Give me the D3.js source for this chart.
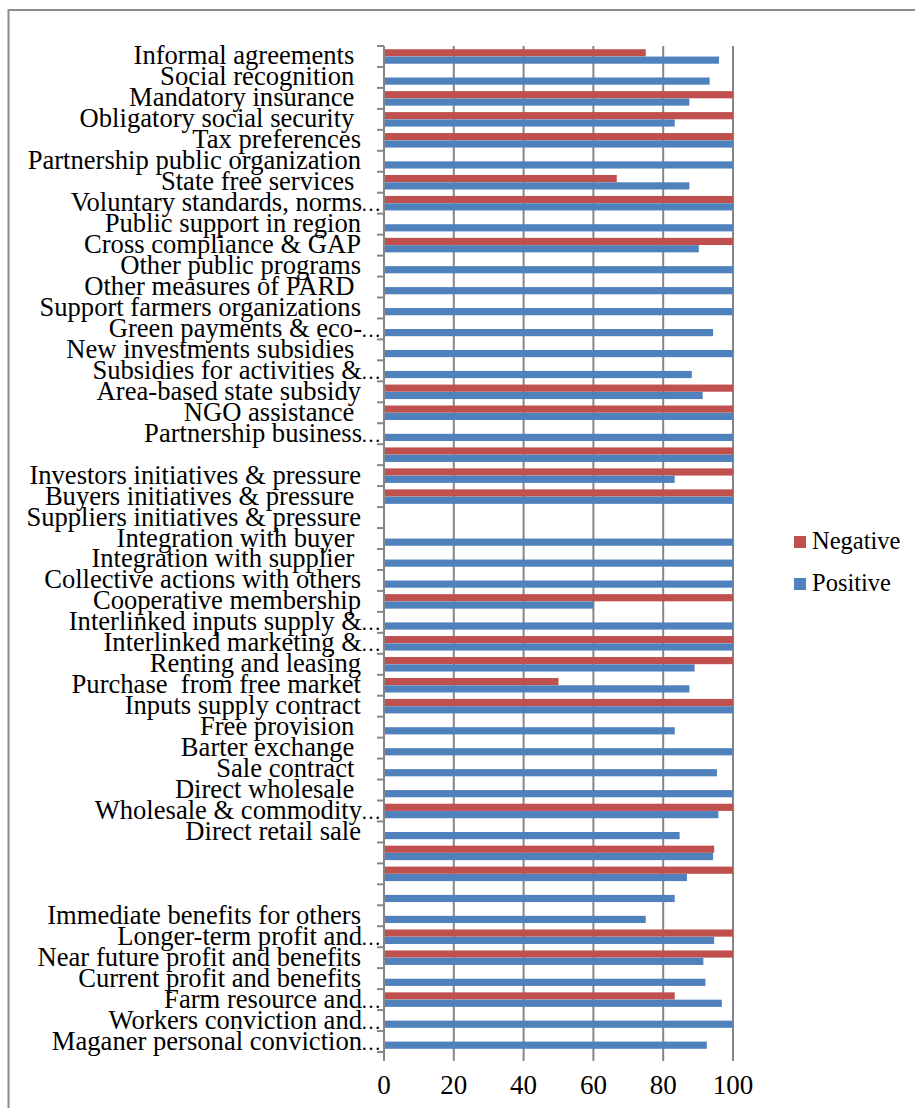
<!DOCTYPE html>
<html><head><meta charset="utf-8">
<script src="https://cdn.jsdelivr.net/npm/d3@7"></script>
<style>
html,body{margin:0;padding:0;background:#fff;}
svg text{font-family:"Liberation Serif","Times New Roman",serif;fill:#000;white-space:pre;}
</style></head>
<body><svg id="c" width="915" height="1108"></svg>
<script>
const categories = [
 "Informal agreements ","Social recognition ","Mandatory insurance ","Obligatory social security ","Tax preferences",
 "Partnership public organization","State free services ","Voluntary standards, norms…","Public support in region","Cross compliance & GAP",
 "Other public programs","Other measures of PARD ","Support farmers organizations","Green payments & eco-…","New investments subsidies ",
 "Subsidies for activities &…","Area-based state subsidy","NGO assistance ","Partnership business…","",
 "Investors initiatives & pressure","Buyers initiatives & pressure ","Suppliers initiatives & pressure","Integration with buyer ","Integration with supplier ",
 "Collective actions with others","Cooperative membership","Interlinked inputs supply &…","Interlinked marketing &…","Renting and leasing",
 "Purchase  from free market","Inputs supply contract","Free provision ","Barter exchange ","Sale contract ",
 "Direct wholesale ","Wholesale & commodity…","Direct retail sale","","",
 "","Immediate benefits for others","Longer-term profit and…","Near future profit and benefits","Current profit and benefits",
 "Farm resource and…","Workers conviction and…","Maganer personal conviction…"
];
const negative = [
 75, null, 100, 100, 100,
 null, 66.7, 100, null, 100,
 null, null, null, null, null,
 null, 100, 100, null, 100,
 100, 100, null, null, null,
 null, 100, null, 100, 100,
 50, 100, null, null, null,
 null, 100, null, 94.6, 100,
 null, null, 100, 100, null,
 83.3, null, null
];
const positive = [
 96, 93.3, 87.5, 83.3, 100,
 100, 87.5, 100, 100, 90.2,
 100, 100, 100, 94.3, 100,
 88.2, 91.3, 100, 100, 100,
 83.3, 100, null, 100, 100,
 100, 60, 100, 100, 89,
 87.5, 100, 83.3, 100, 95.4,
 100, 95.8, 84.7, 94.3, 86.8,
 83.3, 75, 94.6, 91.5, 92.1,
 96.8, 100, 92.5
];
const seriesNames = ["Negative","Positive"];
const seriesColors = ["#C0504D","#4F81BD"];
const xTicks = [0,20,40,60,80,100];

(function(){
const svg = d3.select("#c");
svg.append("rect").attr("x",8.5).attr("y",10).attr("width",920).attr("height",1110)
  .attr("fill","none").attr("stroke","#8c8c8c").attr("stroke-width",2);

const pL=384, pR=733, pT=46, pB=1052, tickDown=9;
const x = d3.scaleLinear().domain([0,100]).range([pL,pR]);
const idx = d3.range(categories.length);
const y = d3.scaleBand().domain(idx).range([pT,pB]).paddingInner(0).paddingOuter(0);
const yIn = d3.scaleBand().domain(seriesNames).range([0,y.bandwidth()]).paddingInner(0.02).paddingOuter(0.44);

svg.append("g").selectAll("line").data(xTicks.filter(t=>t>0)).join("line")
  .attr("x1",d=>x(d)).attr("x2",d=>x(d)).attr("y1",pT).attr("y2",pB+tickDown)
  .attr("stroke","#868686").attr("stroke-width",2);

[negative, positive].forEach((vals,si)=>{
  svg.append("g").selectAll("rect").data(idx.filter(i=>vals[i]!=null)).join("rect")
    .attr("x",x(0)).attr("y",i=>y(i)+yIn(seriesNames[si]))
    .attr("width",i=>x(vals[i])-x(0)).attr("height",yIn.bandwidth())
    .attr("fill",seriesColors[si]);
});

const ax = svg.append("g");
ax.append("line").attr("x1",pL).attr("x2",pL).attr("y1",pT).attr("y2",pB+tickDown)
  .attr("stroke","#868686").attr("stroke-width",2);
ax.selectAll("line.t").data(d3.range(categories.length+1)).join("line").attr("class","t")
  .attr("x1",pL-7).attr("x2",pL)
  .attr("y1",i=>pT+i*y.step()).attr("y2",i=>pT+i*y.step())
  .attr("stroke","#868686").attr("stroke-width",2);

const lab = svg.append("g").attr("font-size",26.6);
idx.forEach(i=>{
  const s = categories[i];
  if(!s) return;
  const cy = y(i)+y.bandwidth()/2+8;
  if(s.endsWith("…")){
    lab.append("text").attr("x",362).attr("y",cy).attr("text-anchor","end").text(s.slice(0,-1));
    lab.append("text").attr("x",361).attr("y",cy).attr("text-anchor","start").attr("font-size",20).text("…");
  } else {
    lab.append("text").attr("x",361).attr("y",cy).attr("text-anchor","end").text(s);
  }
});

svg.append("g").selectAll("text").data(xTicks).join("text")
  .attr("x",d=>x(d)).attr("y",1094).attr("text-anchor","middle").attr("font-size",27)
  .text(d=>d);

const lg = svg.append("g");
seriesNames.forEach((n,i)=>{
  const ly = 536 + i*42;
  lg.append("rect").attr("x",794).attr("y",ly).attr("width",12).attr("height",12).attr("fill",seriesColors[i]);
  lg.append("text").attr("x",812).attr("y",ly+13).attr("font-size",24.5).text(n);
});
})();
</script></body></html>
